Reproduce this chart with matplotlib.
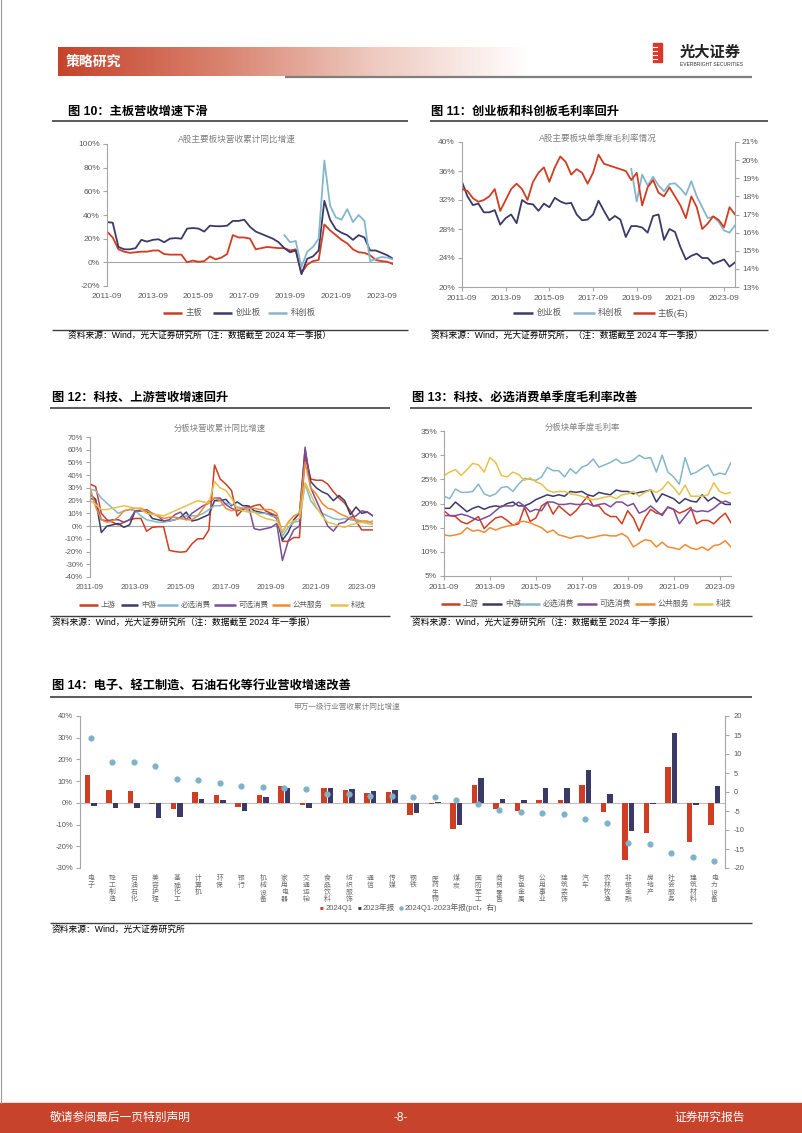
import numpy as np
import matplotlib
matplotlib.use('Agg')
import matplotlib.pyplot as plt
from matplotlib.patches import Rectangle
from matplotlib.colors import LinearSegmentedColormap

plt.rcParams['font.family'] = ['Liberation Sans', 'Noto Sans CJK SC']
plt.rcParams['axes.unicode_minus'] = False

# ---------------- data ----------------
quarters = [f'{2011 + (8 + 3 * i) // 12}-{(8 + 3 * i) % 12 + 1:02d}' for i in range(51)]

# 图10: A股主要板块营收累计同比增速 (%)
rev_main = [26, 21, 11, 9, 8, 8.5, 9, 9, 10, 10,
            7, 6.5, 6.5, 6.5, 0, 1.5, 0.5, 1, 5, 2.5,
            4, 7, 23, 21, 21, 20, 11, 12, 13, 12.5,
            12, 12, 10, 11, -9, -2, 1, 2, 32, 27,
            23, 19, 16, 11, 8.5, 8, 6, 2, 1, 0.5,
            -1.5]
rev_chinext = [34, 33.5, 13, 11, 11, 12, 19, 17.5, 19, 19.5,
               17, 20, 20.5, 20, 28.5, 29, 28.5, 26, 31, 30.5,
               30.5, 31, 35, 35, 36, 30, 26, 24, 22, 20,
               17, 12, 8.5, 10, -10, 3, 5, 10, 52, 36,
               28, 25, 23, 19, 23, 21, 10, 10, 8, 6,
               3]
rev_star = [None] * 31 + [23, 17, 18, -4, 9, 13, 20, 86, 48,
                          38, 36, 45, 34, 40, 35, 1, 3, 4.5, 4,
                          2.5]

# 图11: A股主要板块单季度毛利率 (%)
gm_chinext = [34.5, 32.5, 31.3, 31.5, 30.3, 30.3, 30.6, 28.6, 29.5, 30.0,
              28.8, 32.0, 31.5, 31.4, 30.5, 31.5, 31.0, 32.3, 31.8, 31.5,
              31.6, 30.0, 29.2, 29.3, 30.0, 31.9, 30.5, 29.2, 29.8, 29.3,
              26.9, 28.4, 28.4, 28.2, 27.5, 29.8, 30.0, 26.5, 28.0, 27.6,
              25.5, 23.8, 24.3, 24.6, 24.0, 24.0, 23.2, 23.5, 23.8, 22.8,
              23.4]
gm_star = [None] * 31 + [36.3, 31.8, 35.5, 34.0, 35.2, 34.0, 33.2, 34.2, 34.3,
                         33.6, 32.7, 34.6, 32.5, 31.0, 29.5, 29.7, 29.0, 27.8, 27.5,
                         28.5]
gm_main = [18.4, 18.3, 17.9, 17.7, 17.8, 18.0, 18.4, 17.2, 17.8, 18.4,
           18.7, 18.4, 17.8, 18.8, 19.3, 19.6, 18.8, 19.6, 20.2, 19.9,
           19.2, 19.5, 19.3, 18.7, 19.3, 20.3, 19.8, 19.7, 19.6, 19.5,
           19.4, 18.9, 19.3, 17.5, 18.5, 18.9, 18.2, 18.0, 18.5, 18.0,
           17.5, 16.8, 18.0, 17.4, 16.2, 16.5, 16.9, 16.7, 16.3, 17.4,
           17.0]

# 图12: 分板块营收累计同比增速 (%)
sec_names = ['上游', '中游', '必选消费', '可选消费', '公共服务', '科技']
rev_up = [33, 31, 10, 5, 3, 1, 3, 5, 6, 6,
          -4, -1, -0.5, -0.5, -19, -20, -20.5, -20, -14, -10,
          -10, -3, 48, 37, 33, 28, 8, 13, 14, 16,
          17, 12, 10, 8, -12, -12, -9, -9, 55, 37,
          36, 36, 33, 27, 22, 18, 12, 4, -3, -3,
          -3]
rev_mid = [25, 21, -5, 0, 1, 2, -1, 1, 12, 12,
           12, 6, 5, 4, 4, 5, 7, 11, 4, 5,
           7, 9, 20, 20, 21, 16, 19, 16, 16, 12,
           11, 10, 9, 6, -11, -5, 5, 10, 60, 35,
           30, 27, 25, 20, 24, 20, 9, 15, 10, 11,
           8]
rev_staple = [29, 28, 22, 18, 14, 10, 12, 13, 12, 8,
              5, 4, 3, 3, 4, 5, 6, 8, 8, 8,
              10, 13, 16, 16, 18, 17, 15, 14, 12, 11,
              10, 10, 8, 7, -8, -1, 3, 4, 33, 20,
              14, 10, 8, 6, 5, 6, 5, 4, 3, 3,
              4]
rev_disc = [22, 20, 5, 4, 5, 5, 3, 5, 12, 12,
            13, 10, 8, 4, 5, 9, 11, 5, 10, 13,
            16, 18, 22, 22, 17, 14, 12, 13, 16, -2,
            -3, -2, -1, 2, -27, -12, -3, 0, 62, 30,
            20, 10, 0, -4, 2, 3, 7, 8, 12, 11,
            8]
rev_util = [30, 15, 5, 3, 4, 7, 12, 13, 14, 14,
            12, 10, 8, 6, 7, 7, 6, 5, 5, 8,
            14, 20, 22, 20, 14, 12, 13, 14, 14, 14,
            13, 13, 13, 10, -5, 3, 8, 10, 50, 30,
            25, 18, 14, 13, 10, 8, 6, 5, 4, 4,
            2]
rev_tech = [20, 17, 13, 13, 14, 15, 16, 15, 14, 13,
            10, 9, 9, 8, 10, 12, 14, 16, 18, 20,
            19, 18, 35, 30, 28, 22, 14, 12, 11, 11,
            8, 6, 5, 4, -4, 2, 4, 6, 34, 25,
            15, 8, 3, 2, 0, -1, 1, 2, 3, 2,
            1]

# 图13: 分板块单季度毛利率 (%)
gm_up = [18.5, 17.5, 17.3, 16.2, 15.8, 16.5, 17.3, 14.8, 16.0, 17.0,
         17.3, 16.5, 15.5, 15.8, 19.2, 16.3, 17.0, 19.5, 20.3, 17.8,
         19.5, 18.5, 17.5, 18.5, 20.0, 21.5, 19.5, 19.5, 18.0, 17.3,
         17.3, 15.8, 18.5, 17.0, 14.3, 17.0, 18.8, 18.0, 17.8, 19.2,
         18.8, 18.0, 18.5, 19.2, 15.8, 16.5, 16.5, 15.8, 17.0, 18.0,
         16.0]
gm_mid = [19.0, 19.0, 20.3, 19.3, 18.3, 19.0, 19.4, 18.8, 19.3, 19.5,
          19.3, 20.0, 20.3, 19.5, 19.5, 20.0, 20.8, 21.3, 21.8, 21.5,
          21.8, 21.5, 22.5, 22.3, 22.5, 21.8, 21.5, 22.3, 22.0, 21.8,
          22.8, 22.5, 22.5, 22.0, 22.3, 22.5, 22.8, 20.3, 22.0, 21.5,
          21.0, 20.0, 21.0, 20.5, 20.3, 21.8, 20.5, 21.3, 20.5, 19.8,
          19.8]
gm_staple = [21.5, 21.0, 23.0, 22.3, 22.3, 22.5, 24.0, 22.0, 21.5, 22.0,
             23.3, 23.5, 22.5, 24.0, 25.2, 25.0, 24.8, 25.5, 27.5, 26.8,
             26.8, 25.5, 27.2, 26.2, 27.5, 28.0, 29.2, 27.5, 28.0, 28.5,
             29.2, 28.3, 28.5, 29.0, 30.0, 29.3, 29.5, 26.5, 30.0, 26.5,
             25.5, 24.0, 29.5, 26.0, 26.5, 27.3, 28.0, 25.8, 26.3, 26.0,
             28.5]
gm_disc = [17.5, 17.5, 17.5, 17.8, 17.5, 17.0, 16.5, 17.0, 17.5, 18.5,
           19.5, 19.5, 19.5, 20.3, 19.5, 18.3, 18.8, 18.5, 20.3, 20.3,
           19.8, 19.8, 20.0, 19.8, 19.8, 20.0, 19.5, 19.8, 20.0, 19.3,
           20.3, 20.3, 19.5, 20.0, 18.0, 18.5, 19.5, 18.5, 17.5, 19.3,
           18.8, 15.8, 17.3, 18.8, 18.3, 18.5, 18.3, 19.0, 20.0, 20.5,
           20.0]
gm_util = [13.5, 13.3, 13.5, 13.8, 15.0, 14.3, 14.5, 14.0, 15.0, 14.5,
           15.0, 15.3, 15.5, 16.2, 16.3, 16.0, 15.5, 15.0, 14.0, 14.5,
           13.5, 13.2, 12.8, 13.2, 13.3, 12.8, 13.0, 13.3, 13.5, 13.3,
           13.3, 13.8, 13.0, 11.0, 11.8, 12.5, 12.3, 11.0, 12.0, 11.0,
           10.8, 10.5, 11.5, 10.8, 10.5, 11.0, 10.3, 11.3, 11.5, 12.3,
           11.0]
gm_tech = [25.8, 26.5, 27.0, 25.8, 27.0, 28.3, 28.0, 26.5, 29.5, 28.5,
           25.8, 25.5, 26.5, 26.0, 24.8, 25.3, 24.5, 24.0, 22.8, 22.3,
           22.5, 22.5, 22.0, 21.8, 21.5, 21.0, 20.8, 21.0, 21.3, 21.5,
           21.0, 21.8, 22.0, 22.5, 21.5, 22.3, 22.8, 22.3, 23.0, 24.5,
           23.3, 21.8, 23.8, 21.5, 21.5, 21.5, 21.8, 24.3, 22.5, 22.0,
           22.3]

# 图14: 申万一级行业营收累计同比增速
industries = ['电子', '轻工制造', '石油石化', '美容护理', '基础化工', '计算机', '环保', '银行',
              '机械设备', '家用电器', '交通运输', '食品饮料', '纺织服饰', '通信', '传媒', '钢铁',
              '医药生物', '煤炭', '国防军工', '商贸零售', '有色金属', '公用事业', '建筑装饰', '汽车',
              '农林牧渔', '非银金融', '房地产', '社会服务', '建筑材料', '电力设备']
ind_2024q1 = [12.7, 5.7, 5.4, -0.3, -2.8, 5.0, 3.8, -1.8, 3.8, 7.8,
              -1.2, 6.7, 5.8, 4.4, 4.9, -5.5, -0.4, -12.1, 8.1, -2.8,
              -3.7, 1.2, 1.2, 8.3, -4.0, -26.5, -14.0, 16.5, -18.2, -10.1]
ind_2023 = [-1.4, -2.3, -2.4, -7.1, -6.4, 1.8, 1.5, -3.7, 2.8, 6.7,
            -2.3, 6.7, 6.3, 5.5, 6.0, -4.6, 0.6, -10.2, 11.3, 1.8,
            1.4, 6.7, 6.7, 15.3, 4.0, -13.1, -0.3, 32.0, -1.0, 7.8]
ind_diff = [14.2, 8.0, 8.0, 6.8, 3.3, 3.2, 2.3, 1.7, 1.2, 1.0,
            0.9, -0.4, -0.4, -1.0, -1.1, -1.2, -1.4, -2.0, -3.2, -4.7,
            -5.3, -5.5, -5.9, -7.1, -8.2, -13.5, -13.7, -16.0, -17.2, -18.2]

# ---------------- colours ----------------
RED = '#cf3d22'
NAVY = '#3b3a66'
LBLUE = '#86b6cc'
PURPLE = '#7a4d98'
ORANGE = '#f28a32'
GOLD = '#e6c24c'
GRID = '#a6a6a6'
TXT = '#595959'

W, H = 802, 1133
fig = plt.figure(figsize=(W / 100, H / 100), dpi=100)

# page layer in pixel coordinates
bg = fig.add_axes([0, 0, 1, 1], zorder=-10)
bg.set_xlim(0, W)
bg.set_ylim(H, 0)
bg.axis('off')


def axes_px(l, t, r, b):
    ax = fig.add_axes([l / W, 1 - b / H, (r - l) / W, (b - t) / H])
    ax.set_facecolor('none')
    return ax


def hline(x0, x1, y, color='#404040', lw=1.2):
    bg.plot([x0, x1], [y, y], color=color, lw=lw, solid_capstyle='butt')


def legend_row(y, items, fs=6):
    for x0, x1, tx, color, label in items:
        bg.plot([x0, x1], [y, y], color=color, lw=1.8, solid_capstyle='butt')
        bg.text(tx, y, label, fontsize=fs, color=TXT, va='center')


def style_line_ax(ax, ylim, ystep, zero_line, fs=6):
    ax.set_xlim(0, len(quarters) - 1)
    ax.set_ylim(*ylim)
    ticks = np.arange(ylim[0], ylim[1] + 0.01, ystep)
    ax.set_yticks(ticks)
    ax.set_yticklabels([f'{t:g}%' for t in ticks])
    ax.set_xticks(range(0, len(quarters), 8))
    ax.set_xticklabels(quarters[::8])
    for s in ['top', 'right']:
        ax.spines[s].set_visible(False)
    ax.spines['left'].set_color(GRID)
    ax.spines['left'].set_linewidth(0.8)
    if zero_line:
        ax.spines['bottom'].set_visible(False)
        ax.axhline(0, color=GRID, lw=0.8, zorder=0)
        ax.tick_params(axis='x', length=0, pad=5)
    else:
        ax.spines['bottom'].set_color(GRID)
        ax.spines['bottom'].set_linewidth(0.8)
        ax.tick_params(axis='x', length=3, color=GRID, pad=3)
    ax.tick_params(axis='y', length=3, color=GRID, pad=2)
    ax.tick_params(labelsize=fs, labelcolor=TXT)


# ---------------- header / footer ----------------
grad = np.linspace(0, 1, 256).reshape(1, -1)
cmap = LinearSegmentedColormap.from_list('hdr', ['#c6432b', '#d8806c', '#eec9bf', '#ffffff'])
bg.imshow(grad, extent=(58, 530, 76, 47), aspect='auto', cmap=cmap, zorder=1)
bg.text(66, 61.5, '策略研究', fontsize=10, color='white', fontweight='bold', va='center', zorder=2)
hline(285, 752, 77, color='#7f7f7f', lw=1.6)
bg.add_patch(Rectangle((653, 43), 9, 19, color='#d9372a', zorder=2))
for yy in [47, 51, 55, 59]:
    bg.plot([653, 657], [yy, yy], color='white', lw=0.8, zorder=3)
bg.text(680, 53, '光大证券', fontsize=11, fontweight='bold', color='#222222', va='center')
bg.text(680, 64, 'EVERBRIGHT SECURITIES', fontsize=3.6, color='#333333', va='center')

bg.add_patch(Rectangle((0, 1103), W, 30, color='#c8432b'))
bg.text(50, 1118, '敬请参阅最后一页特别声明', fontsize=8.5, color='white', va='center')
bg.text(401, 1118, '-8-', fontsize=8.5, color='white', va='center', ha='center')
bg.text(745, 1118, '证券研究报告', fontsize=8.5, color='white', va='center', ha='right')
bg.plot([0.5, 0.5], [0, 1103], color='#9a9a9a', lw=0.8)

x = np.arange(len(quarters))
TFS = 8.8   # figure titles
SFS = 6.3   # source notes

# ---------------- 图10 ----------------
bg.text(68, 112, '图 10：主板营收增速下滑', fontsize=TFS, fontweight='bold', va='center')
hline(52, 408, 121)
ax10 = axes_px(107, 144, 393, 286)
ax10.plot(x, np.array(rev_main, dtype=float), color=RED, lw=1.3)
ax10.plot(x, np.array(rev_chinext, dtype=float), color=NAVY, lw=1.3)
ax10.plot(x, np.array(rev_star, dtype=float), color=LBLUE, lw=1.3)
style_line_ax(ax10, (-20, 100), 20, True)
bg.text(237, 139, 'A股主要板块营收累计同比增速', fontsize=6.2, color='#7f7f7f', ha='center', va='center')
legend_row(313, [(163, 182, 186, RED, '主板'), (213, 232, 236, NAVY, '创业板'),
                 (268, 287, 291, LBLUE, '科创板')])
hline(52, 408, 330, lw=1.0)
bg.text(68, 336, '资料来源：Wind，光大证券研究所（注：数据截至 2024 年一季报）', fontsize=SFS, va='center')

# ---------------- 图11 ----------------
bg.text(431, 112, '图 11：创业板和科创板毛利率回升', fontsize=TFS, fontweight='bold', va='center')
hline(430, 768, 121)
ax11 = axes_px(462, 142, 735, 287)
ax11.plot(x, np.array(gm_chinext, dtype=float), color=NAVY, lw=1.3)
ax11.plot(x, np.array(gm_star, dtype=float), color=LBLUE, lw=1.3)
style_line_ax(ax11, (20, 40), 4, False)
ax11r = ax11.twinx()
ax11r.set_facecolor('none')
ax11r.plot(x, np.array(gm_main, dtype=float), color=RED, lw=1.3)
ax11r.set_ylim(13, 21)
rt = np.arange(13, 22, 1)
ax11r.set_yticks(rt)
ax11r.set_yticklabels([f'{t}%' for t in rt])
for s in ['top', 'left', 'bottom']:
    ax11r.spines[s].set_visible(False)
ax11r.spines['right'].set_color(GRID)
ax11r.spines['right'].set_linewidth(0.8)
ax11r.tick_params(axis='y', length=3, color=GRID, pad=2, labelsize=6, labelcolor=TXT)
bg.text(598, 138, 'A股主要板块单季度毛利率情况', fontsize=6.2, color='#7f7f7f', ha='center', va='center')
legend_row(313, [(513, 533, 537, NAVY, '创业板'), (573, 595, 598, LBLUE, '科创板'),
                 (633, 655, 658, RED, '主板(右)')])
hline(430, 768, 330, lw=1.0)
bg.text(431, 336, '资料来源：Wind，光大证券研究所，（注：数据截至 2024 年一季报）', fontsize=SFS, va='center')

# ---------------- 图12 ----------------
sec_colors = [RED, NAVY, LBLUE, PURPLE, ORANGE, GOLD]
bg.text(52, 398, '图 12：科技、上游营收增速回升', fontsize=TFS, fontweight='bold', va='center')
hline(50, 390, 408)
ax12 = axes_px(90, 437, 373, 577)
for vals, c in zip([rev_up, rev_mid, rev_staple, rev_disc, rev_util, rev_tech], sec_colors):
    ax12.plot(x, vals, color=c, lw=1.1)
style_line_ax(ax12, (-40, 70), 10, True, fs=5.6)
bg.text(220, 429, '分板块营收累计同比增速', fontsize=6, color='#7f7f7f', ha='center', va='center')
legend_row(605, [(79, 98, 101, sec_colors[0], sec_names[0]),
                 (121, 138, 141, sec_colors[1], sec_names[1]),
                 (157, 178, 181, sec_colors[2], sec_names[2]),
                 (214, 236, 239, sec_colors[3], sec_names[3]),
                 (272, 290, 293, sec_colors[4], sec_names[4]),
                 (330, 348, 351, sec_colors[5], sec_names[5])], fs=5.4)
hline(50, 390, 616, lw=1.0)
bg.text(52, 623, '资料来源：Wind，光大证券研究所（注：数据截至 2024 年一季报）', fontsize=SFS, va='center')

# ---------------- 图13 ----------------
bg.text(412, 398, '图 13：科技、必选消费单季度毛利率改善', fontsize=TFS, fontweight='bold', va='center')
hline(410, 752, 408)
ax13 = axes_px(444, 431, 731, 576)
for vals, c in zip([gm_up, gm_mid, gm_staple, gm_disc, gm_util, gm_tech], sec_colors):
    ax13.plot(x, vals, color=c, lw=1.1)
style_line_ax(ax13, (5, 35), 5, False)
bg.text(582, 428, '分板块单季度毛利率', fontsize=6, color='#7f7f7f', ha='center', va='center')
legend_row(604, [(441, 460, 463, sec_colors[0], sec_names[0]),
                 (482, 502, 505, sec_colors[1], sec_names[1]),
                 (518, 540, 543, sec_colors[2], sec_names[2]),
                 (577, 597, 600, sec_colors[3], sec_names[3]),
                 (635, 655, 658, sec_colors[4], sec_names[4]),
                 (693, 713, 716, sec_colors[5], sec_names[5])], fs=5.7)
hline(410, 752, 616, lw=1.0)
bg.text(412, 623, '资料来源：Wind，光大证券研究所（注：数据截至 2024 年一季报）', fontsize=SFS, va='center')

# ---------------- 图14 ----------------
bg.text(52, 686, '图 14：电子、轻工制造、石油石化等行业营收增速改善', fontsize=TFS, fontweight='bold', va='center')
hline(50, 752, 697)
ax14 = axes_px(80, 716, 725, 868)
xi = np.arange(len(industries))
ax14.bar(xi - 0.15, ind_2024q1, width=0.27, color=RED, zorder=2)
ax14.bar(xi + 0.15, ind_2023, width=0.27, color=NAVY, zorder=2)
ax14.axhline(0, color='#bfbfbf', lw=0.8, zorder=1)
ax14.set_xlim(-0.5, len(industries) - 0.5)
ax14.set_ylim(-30, 40)
lt = np.arange(-30, 41, 10)
ax14.set_yticks(lt)
ax14.set_yticklabels([f'{t}%' for t in lt])
ax14.set_xticks(xi)
ax14.set_xticklabels(['\n'.join(n) for n in industries], va='top', linespacing=1.0)
for s in ['top', 'right', 'bottom']:
    ax14.spines[s].set_visible(False)
ax14.spines['left'].set_color(GRID)
ax14.spines['left'].set_linewidth(0.8)
ax14.tick_params(axis='x', length=0, pad=5, labelsize=4.9, labelcolor='#6e6e6e')
ax14.tick_params(axis='y', length=3, color=GRID, pad=2, labelsize=5.5, labelcolor=TXT)
ax14r = ax14.twinx()
ax14r.set_facecolor('none')
ax14r.scatter(xi, ind_diff, s=12, color='#7fb2c9', zorder=3)
ax14r.set_ylim(-20, 20)
ax14r.set_yticks(np.arange(-20, 21, 5))
for s in ['top', 'left', 'bottom']:
    ax14r.spines[s].set_visible(False)
ax14r.spines['right'].set_color(GRID)
ax14r.spines['right'].set_linewidth(0.8)
ax14r.tick_params(axis='y', length=3, color=GRID, pad=3, labelsize=5.5, labelcolor=TXT)
bg.text(347, 707, '申万一级行业营收累计同比增速', fontsize=5.5, color='#7f7f7f', ha='center', va='center')
bg.text(322, 908, '■', fontsize=4.5, color=RED, va='center', ha='center')
bg.text(326, 908, '2024Q1', fontsize=5.5, color=TXT, va='center')
bg.text(359, 908, '■', fontsize=4.5, color=NAVY, va='center', ha='center')
bg.text(363, 908, '2023年报', fontsize=5.5, color=TXT, va='center')
bg.scatter([401], [908], s=5, color='#7fb2c9')
bg.text(405, 908, '2024Q1-2023年报(pct，右)', fontsize=5.5, color=TXT, va='center')
hline(50, 752, 923, lw=1.0)
bg.text(52, 929, '资料来源：Wind，光大证券研究所', fontsize=SFS, va='center')

fig.savefig('out.png', dpi=100)
